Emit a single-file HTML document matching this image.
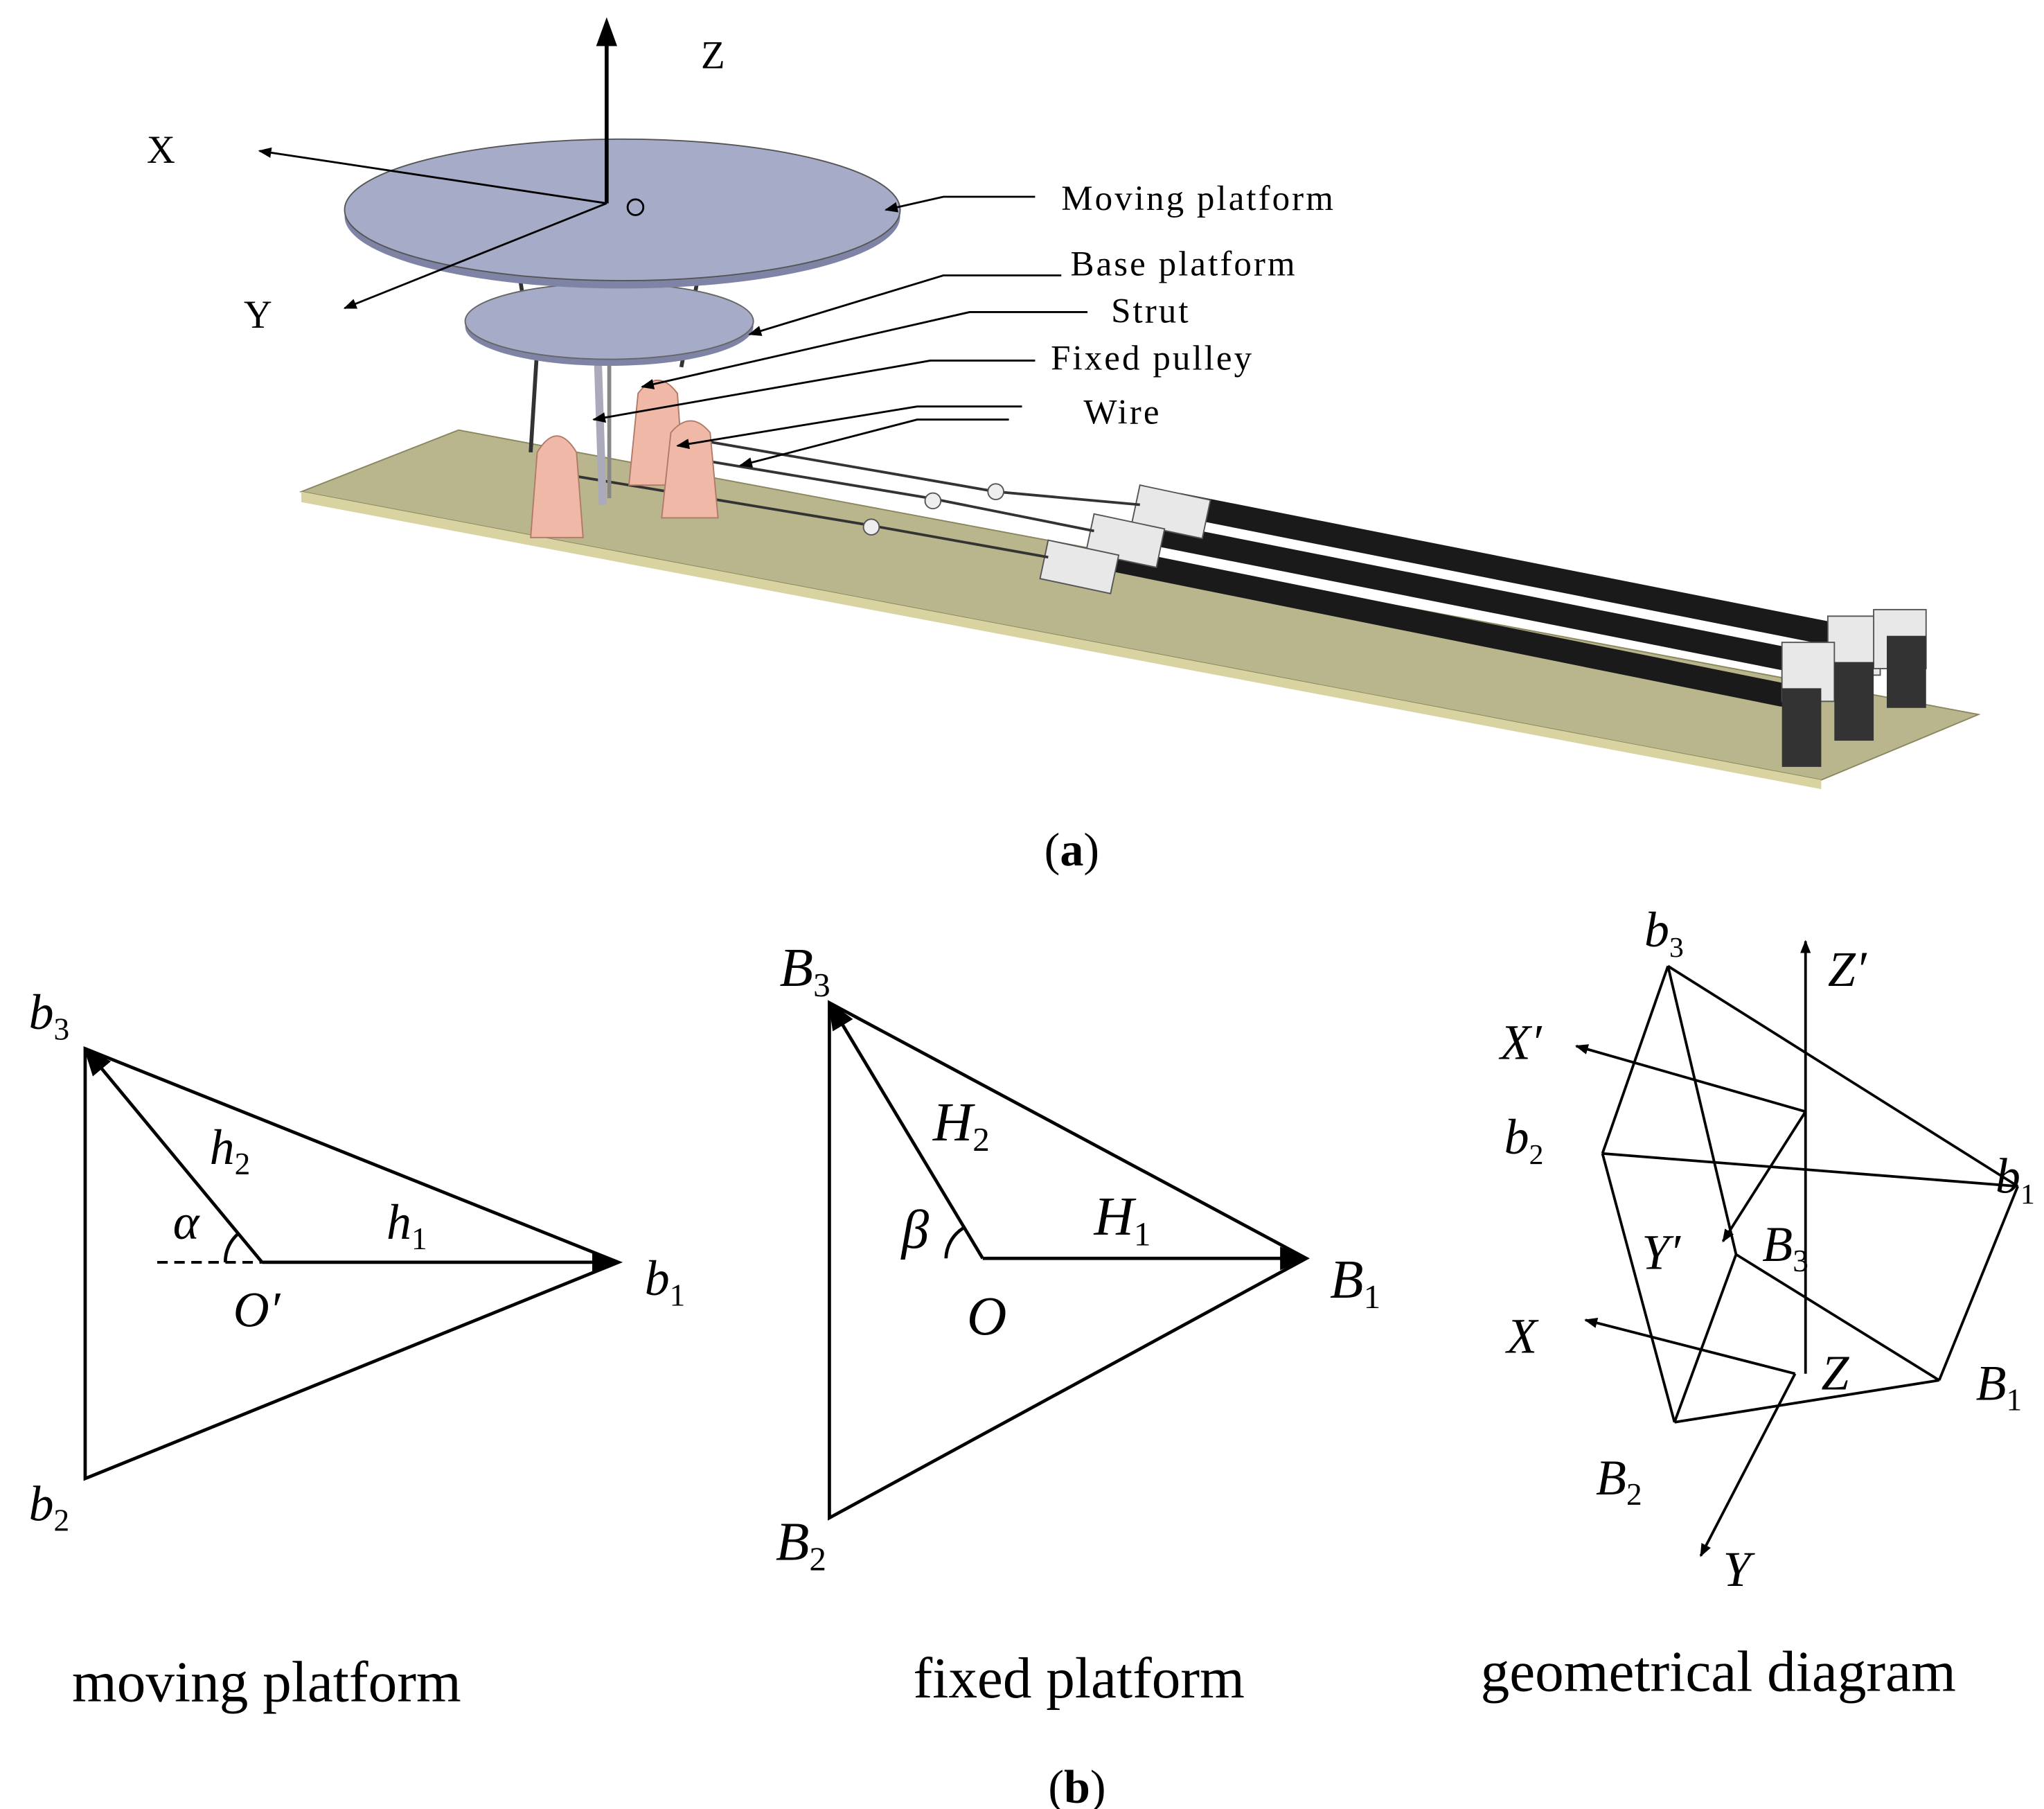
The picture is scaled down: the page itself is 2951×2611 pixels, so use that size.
<!DOCTYPE html>
<html><head><meta charset="utf-8"><style>html,body{margin:0;padding:0;background:#fff}svg{display:block}</style></head><body>
<svg width="2951" height="2611" viewBox="0 0 1560 1380" xmlns="http://www.w3.org/2000/svg" font-family="Liberation Serif, serif">
<defs>
<marker id="ah" markerWidth="10" markerHeight="10" refX="9" refY="5" orient="auto" markerUnits="userSpaceOnUse"><path d="M0,1 L10,5 L0,9 z" fill="#000"/></marker>
<marker id="ab" markerWidth="22" markerHeight="18" refX="20" refY="9" orient="auto" markerUnits="userSpaceOnUse"><path d="M0,0 L22,9 L0,18 z" fill="#000"/></marker>
</defs>
<polygon points="230,375 350,328 1510,545 1390,595" fill="#b9b58c" stroke="#8a875f"/>
<polygon points="230,375 1390,595 1390,602 230,383" fill="#d8d3a0"/>
<g stroke="#1a1a1a" stroke-linecap="round">
<line x1="900" y1="385" x2="1420" y2="488" stroke-width="18"/>
<line x1="870" y1="405" x2="1390" y2="508" stroke-width="18"/>
<line x1="840" y1="425" x2="1360" y2="530" stroke-width="18"/>
</g>
<g fill="#e8e8e8" stroke="#555">
<rect x="870" y="370" width="55" height="30" transform="rotate(12 870 370)"/>
<rect x="835" y="392" width="55" height="30" transform="rotate(12 835 392)"/>
<rect x="800" y="412" width="55" height="30" transform="rotate(12 800 412)"/>
<rect x="1395" y="470" width="40" height="45"/><rect x="1430" y="465" width="40" height="45"/><rect x="1360" y="490" width="40" height="45"/>
</g>
<g fill="#333"><rect x="1360" y="525" width="30" height="60"/><rect x="1400" y="505" width="30" height="60"/><rect x="1440" y="485" width="30" height="55"/></g>
<g stroke="#333" stroke-width="2">
<line x1="530" y1="335" x2="760" y2="375"/><line x1="530" y1="350" x2="710" y2="380"/><line x1="420" y1="360" x2="660" y2="400"/>
<line x1="760" y1="375" x2="870" y2="385"/><line x1="710" y1="380" x2="835" y2="405"/><line x1="660" y1="400" x2="800" y2="425"/>
</g>
<g fill="#eee" stroke="#555"><circle cx="760" cy="375" r="6"/><circle cx="712" cy="382" r="6"/><circle cx="665" cy="402" r="6"/></g>
<g fill="#f0b8a6" stroke="#b07a68">
<path d="M405,410 L410,345 Q425,320 440,345 L445,410 z"/>
<path d="M480,370 L487,300 Q502,280 517,300 L522,370 z"/>
<path d="M505,395 L512,330 Q527,312 542,330 L548,395 z"/>
</g>
<g stroke="#333" stroke-width="3">
<line x1="395" y1="200" x2="405" y2="265"/><line x1="533" y1="210" x2="520" y2="280"/><line x1="410" y1="265" x2="405" y2="345"/>
<line x1="440" y1="195" x2="448" y2="240"/><line x1="480" y1="210" x2="492" y2="238"/>
</g>
<line x1="455" y1="235" x2="460" y2="385" stroke="#aab" stroke-width="6"/>
<line x1="465" y1="250" x2="465" y2="380" stroke="#888" stroke-width="3"/>
<ellipse cx="465" cy="249" rx="110" ry="30" fill="#7f84a6"/>
<ellipse cx="465" cy="245" rx="110" ry="29" fill="#a6abc8" stroke="#666"/>
<ellipse cx="475" cy="165" rx="212" ry="55" fill="#7f84a6"/>
<ellipse cx="475" cy="160" rx="212" ry="54" fill="#a6abc8" stroke="#555"/>
<circle cx="485" cy="158" r="6" fill="none" stroke="#000" stroke-width="1.5"/>
<g stroke="#000" stroke-width="3"><line x1="463" y1="155" x2="463" y2="30"/></g>
<path d="M455,35 L463,13 L471,35 z"/>
<g stroke="#000" stroke-width="1.5"><line x1="463" y1="155" x2="198" y2="115" marker-end="url(#ah)"/><line x1="463" y1="155" x2="263" y2="235" marker-end="url(#ah)"/></g>
<g font-size="30"><text x="535" y="52">Z</text><text x="112" y="124">X</text><text x="186" y="250">Y</text></g>
<g font-size="27" fill="#000" letter-spacing="1.6">
<text x="810" y="160">Moving platform</text><text x="817" y="210">Base platform</text><text x="848" y="246">Strut</text><text x="802" y="282">Fixed pulley</text><text x="827" y="323">Wire</text>
</g>
<g stroke="#000" stroke-width="1.5" fill="none">
<polyline points="790,150 720,150 676,160" marker-end="url(#ah)"/>
<polyline points="810,210 720,210 572,255" marker-end="url(#ah)"/>
<polyline points="830,238 740,238 490,295" marker-end="url(#ah)"/>
<polyline points="790,275 710,275 453,320" marker-end="url(#ah)"/>
<polyline points="780,310 700,310 517,340" marker-end="url(#ah)"/>
<polyline points="770,320 700,320 565,355" marker-end="url(#ah)"/>
</g>
<text x="797" y="660" font-size="36">(<tspan font-weight="bold">a</tspan>)</text>
<g stroke="#000" stroke-width="2.5" fill="none">
<polygon points="65,800 472,963 65,1128"/>
<line x1="200" y1="963" x2="472" y2="963" marker-end="url(#ab)"/>
<line x1="200" y1="963" x2="65" y2="800" marker-end="url(#ab)"/>
<line x1="120" y1="963" x2="200" y2="963" stroke-dasharray="8,5" stroke-width="2"/>
<path d="M172,963 A28,28 0 0 1 182,941"/>
</g>
<g font-size="38" font-style="italic">
<text x="22" y="785">b<tspan font-size="24" dy="8" font-style="normal">3</tspan></text>
<text x="160" y="888">h<tspan font-size="24" dy="8" font-style="normal">2</tspan></text>
<text x="132" y="945">α</text>
<text x="295" y="945">h<tspan font-size="24" dy="8" font-style="normal">1</tspan></text>
<text x="178" y="1012">O′</text>
<text x="492" y="988">b<tspan font-size="24" dy="8" font-style="normal">1</tspan></text>
<text x="22" y="1160">b<tspan font-size="24" dy="8" font-style="normal">2</tspan></text>
</g>
<g stroke="#000" stroke-width="2.5" fill="none">
<polygon points="633,765 997,960 633,1158"/>
<line x1="750" y1="960" x2="997" y2="960" marker-end="url(#ab)"/>
<line x1="750" y1="960" x2="633" y2="765" marker-end="url(#ab)"/>
<path d="M722,960 A28,28 0 0 1 735,937"/>
</g>
<g font-size="42" font-style="italic">
<text x="595" y="752">B<tspan font-size="26" dy="8" font-style="normal">3</tspan></text>
<text x="712" y="870">H<tspan font-size="26" dy="8" font-style="normal">2</tspan></text>
<text x="688" y="952">β</text>
<text x="835" y="942">H<tspan font-size="26" dy="8" font-style="normal">1</tspan></text>
<text x="738" y="1018">O</text>
<text x="1015" y="990">B<tspan font-size="26" dy="8" font-style="normal">1</tspan></text>
<text x="592" y="1190">B<tspan font-size="26" dy="8" font-style="normal">2</tspan></text>
</g>
<g stroke="#000" stroke-width="2" fill="none">
<line x1="1273" y1="737" x2="1223" y2="880"/><line x1="1273" y1="737" x2="1540" y2="905"/><line x1="1223" y1="880" x2="1540" y2="905"/>
<line x1="1273" y1="737" x2="1325" y2="957"/><line x1="1223" y1="880" x2="1278" y2="1085"/><line x1="1540" y1="905" x2="1480" y2="1053"/>
<line x1="1325" y1="957" x2="1278" y2="1085"/><line x1="1325" y1="957" x2="1480" y2="1053"/><line x1="1278" y1="1085" x2="1480" y2="1053"/>
<line x1="1378" y1="1048" x2="1378" y2="718" marker-end="url(#ah)"/>
<line x1="1378" y1="848" x2="1203" y2="798" marker-end="url(#ah)"/>
<line x1="1378" y1="848" x2="1315" y2="947" marker-end="url(#ah)"/>
<line x1="1370" y1="1048" x2="1210" y2="1007" marker-end="url(#ah)"/>
<line x1="1370" y1="1048" x2="1298" y2="1187" marker-end="url(#ah)"/>
</g>
<g font-size="38" font-style="italic">
<text x="1255" y="722">b<tspan font-size="22" dy="8" font-style="normal">3</tspan></text>
<text x="1395" y="752">Z′</text>
<text x="1145" y="808">X′</text>
<text x="1148" y="880">b<tspan font-size="22" dy="8" font-style="normal">2</tspan></text>
<text x="1523" y="910">b<tspan font-size="22" dy="8" font-style="normal">1</tspan></text>
<text x="1253" y="968">Y′</text>
<text x="1345" y="962">B<tspan font-size="24" dy="8" font-style="normal">3</tspan></text>
<text x="1150" y="1032">X</text>
<text x="1390" y="1060">Z</text>
<text x="1508" y="1068">B<tspan font-size="24" dy="8" font-style="normal">1</tspan></text>
<text x="1218" y="1140">B<tspan font-size="24" dy="8" font-style="normal">2</tspan></text>
<text x="1315" y="1210">Y</text>
</g>
<g font-size="44"><text x="55" y="1298">moving platform</text><text x="697" y="1295">fixed platform</text><text x="1130" y="1290">geometrical diagram</text></g>
<text x="800" y="1375" font-size="36">(<tspan font-weight="bold">b</tspan>)</text>
</svg>
</body></html>
